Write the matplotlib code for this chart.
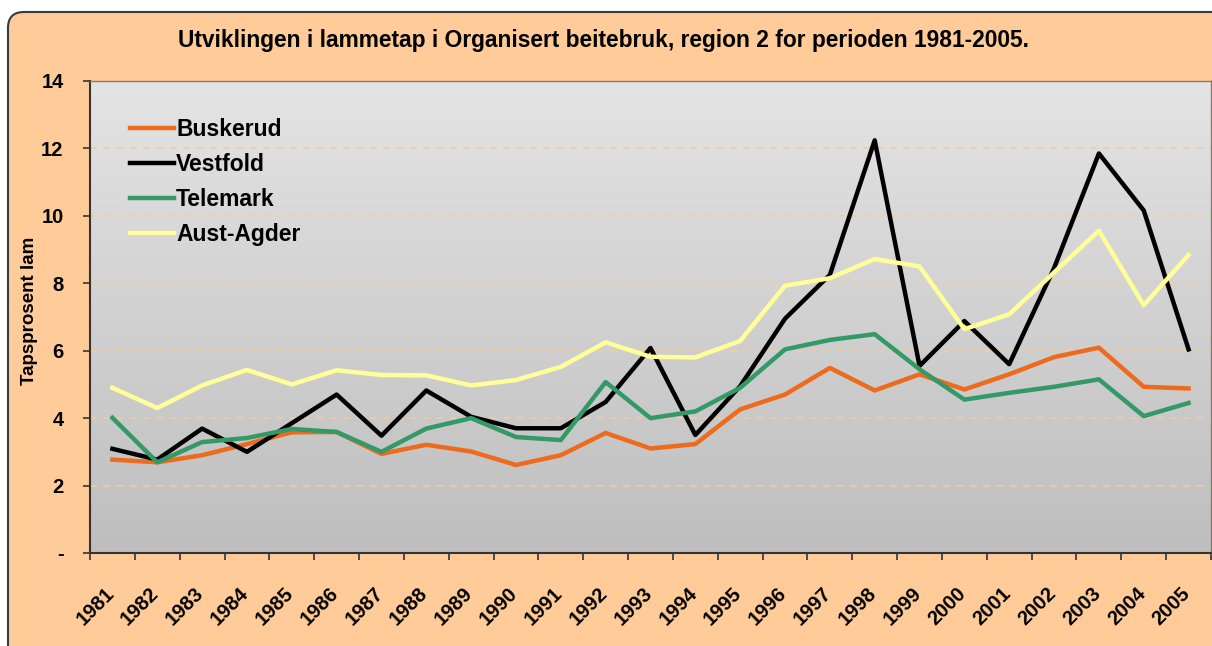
import numpy as np
import matplotlib.pyplot as plt
from matplotlib.patches import FancyBboxPatch
from matplotlib.transforms import IdentityTransform, offset_copy
from matplotlib.colors import LinearSegmentedColormap

plt.rcParams['font.family'] = ['Liberation Sans', 'DejaVu Sans']
plt.rcParams['font.weight'] = 'bold'

years = [str(y) for y in range(1981, 2006)]
buskerud = [2.77, 2.69, 2.90, 3.23, 3.58, 3.59, 2.94, 3.21, 3.01, 2.61, 2.90, 3.56, 3.10,
            3.23, 4.26, 4.70, 5.49, 4.82, 5.30, 4.85, 5.30, 5.81, 6.09, 4.93, 4.88]
vestfold = [3.09, 2.77, 3.69, 3.00, 3.85, 4.70, 3.48, 4.82, 4.04, 3.70, 3.70, 4.48, 6.08,
            3.50, 4.95, 6.95, 8.25, 12.24, 5.55, 6.88, 5.60, 8.45, 11.85, 10.16, 6.04]
telemark = [4.01, 2.69, 3.29, 3.41, 3.68, 3.59, 3.00, 3.69, 4.00, 3.44, 3.35, 5.07, 4.00,
            4.20, 4.90, 6.04, 6.32, 6.49, 5.45, 4.55, 4.75, 4.93, 5.15, 4.06, 4.45]
aust_agder = [4.90, 4.30, 4.97, 5.43, 5.00, 5.42, 5.28, 5.27, 4.97, 5.13, 5.52, 6.25, 5.82,
              5.80, 6.29, 7.93, 8.15, 8.72, 8.50, 6.64, 7.08, 8.32, 9.56, 7.35, 8.84]
yticks = [0, 2, 4, 6, 8, 10, 12, 14]
ytick_labels = ['-', '2', '4', '6', '8', '10', '12', '14']

W, H = 1212, 646
fig = plt.figure(figsize=(W / 100, H / 100), dpi=100, facecolor='white')

# orange background frame with rounded corner (cut off at right/bottom)
frame = FancyBboxPatch((8, -40), 1300, H - 12 + 40,
                       boxstyle="round,pad=0,rounding_size=16",
                       facecolor='#FFCC99', edgecolor='#3a3a3a', linewidth=1.5,
                       transform=IdentityTransform(), zorder=0)
fig.add_artist(frame)

ax = fig.add_axes([90 / W, 1 - 553 / H, 1121 / W, 472 / H])
ax.set_zorder(2)

x = np.arange(len(years))
n = len(years)

# grey gradient plot area
grad = np.linspace(1, 0, 256).reshape(-1, 1)
cmap = LinearSegmentedColormap.from_list('g', ['#BEBEBE', '#E4E4E4'])
ax.imshow(grad, aspect='auto', cmap=cmap, extent=[-0.5, n - 0.5, 0, 14], zorder=0)

ax.plot(x, buskerud, color='#EE6A1C', lw=3.2, label='Buskerud', zorder=3)
ax.plot(x, vestfold, color='black', lw=3.2, label='Vestfold', zorder=3)
ax.plot(x, telemark, color='#339966', lw=3.2, label='Telemark', zorder=3)
ax.plot(x, aust_agder, color='#FFFF99', lw=3.2, label='Aust-Agder', zorder=3)

ax.set_xlim(-0.5, n - 0.5)
ax.set_ylim(0, 14)

for yv in yticks[1:-1]:
    ax.axhline(yv, color='#F3CBA0', lw=1.2, ls=(0, (4, 4)), zorder=1)

ax.set_yticks(yticks)
ax.set_yticklabels(ytick_labels, fontsize=14.5, fontweight='bold')
ax.tick_params(axis='y', direction='out', length=5, width=1.2, color='#333333', pad=14)

# ticks between categories, labels at the centres
ax.set_xticks(np.arange(-0.5, n, 1.0))
ax.set_xticklabels([])
ax.tick_params(axis='x', which='major', direction='out', length=5, width=1.2, color='#333333')
lab_trans = offset_copy(ax.get_xaxis_transform(), fig=fig, x=-8, y=-31, units='dots')
for xi, yr in zip(x, years):
    ax.text(xi, 0, yr, transform=lab_trans, rotation=45, rotation_mode='anchor',
            ha='right', va='top', fontsize=14.5, fontweight='bold', clip_on=False)

for side in ['left', 'bottom']:
    ax.spines[side].set_color('#333333')
    ax.spines[side].set_linewidth(1.5)
for side in ['top', 'right']:
    ax.spines[side].set_color('#8a7a6a')
    ax.spines[side].set_linewidth(1.0)

ax.set_ylabel('Tapsprosent lam', fontsize=13.5, fontweight='bold', va='center')
ax.yaxis.set_label_coords((30 - 90) / 1121, (553 - 311) / 472)

ax.legend(loc='upper left', bbox_to_anchor=(0.036, 0.922), frameon=False,
          handlelength=1.9, handletextpad=0.1, labelspacing=0.52,
          borderpad=0, borderaxespad=0, prop={'weight': 'bold', 'size': 16.5})

fig.text(603 / W, 1 - 40 / H,
         'Utviklingen i lammetap i Organisert beitebruk, region 2 for perioden 1981-2005.',
         ha='center', va='center', fontsize=16.4, fontweight='bold')

fig.savefig('out.png', dpi=100, facecolor='white')
